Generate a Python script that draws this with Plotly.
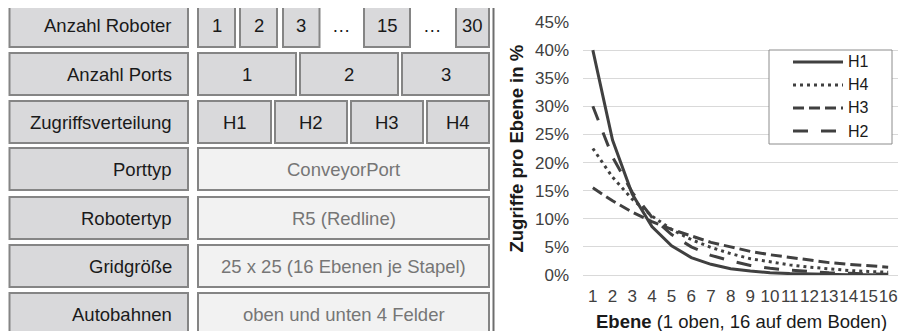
import plotly.graph_objects as go

# ---------------- data ----------------
ebenen = ["1", "2", "3", "4", "5", "6", "7", "8", "9", "10", "11", "12", "13", "14", "15", "16"]
h1 = [40.0, 24.0, 14.4, 8.6, 5.2, 3.1, 1.9, 1.1, 0.7, 0.4, 0.25, 0.15, 0.09, 0.05, 0.03, 0.02]
h4 = [22.5, 17.4, 13.5, 10.5, 8.1, 6.3, 4.9, 3.8, 2.9, 2.3, 1.8, 1.4, 1.05, 0.8, 0.63, 0.49]
h3 = [15.5, 13.2, 11.2, 9.5, 8.1, 6.9, 5.8, 5.0, 4.2, 3.6, 3.1, 2.6, 2.2, 1.9, 1.6, 1.4]
h2 = [30.0, 21.0, 14.7, 10.3, 7.2, 5.0, 3.5, 2.5, 1.7, 1.2, 0.85, 0.6, 0.4, 0.3, 0.2, 0.14]
series_names = ["H1", "H4", "H3", "H2"]

row_labels = ["Anzahl Roboter", "Anzahl Ports", "Zugriffsverteilung", "Porttyp",
              "Robotertyp", "Gridgröße", "Autobahnen"]
robot_values = ["1", "2", "3", "…", "15", "…", "30"]
port_values = ["1", "2", "3"]
verteilung_values = ["H1", "H2", "H3", "H4"]
single_values = ["ConveyorPort", "R5 (Redline)", "25 x 25 (16 Ebenen je Stapel)", "oben und unten 4 Felder"]

W, H = 906, 331
OFF = 8  # page body margin offset
FONT = "Liberation Sans, Arial, sans-serif"
LINE = "#404040"


def px(x):
    return (x - OFF) / W


def py(y):
    return 1 - (y - OFF) / H


fig = go.Figure()

styles = {
    "H1": "solid",
    "H4": "3px,4px",
    "H3": "11px,5px",
    "H2": "15px,13px",
}
data = {"H1": h1, "H4": h4, "H3": h3, "H2": h2}
for name in ["H3", "H4", "H2", "H1"]:
    fig.add_trace(go.Scatter(
        x=ebenen, y=data[name], mode="lines", name=name,
        line=dict(color=LINE, width=3, dash=styles[name]),
        showlegend=False, hoverinfo="skip"))

shapes = []
annotations = []

# ---------- table on the left ----------
row_tops = [5, 53, 101, 148, 197, 245, 293]
row_h = 42
LBL_FILL = "#d9d9db"
VAL_FILL_LIGHT = "#f2f2f2"
BORDER = "#858585"
TXT = "#1a1a1a"
GRAY_TXT = "#767676"
FS = 18.5


def box(x0, x1, top, fill):
    shapes.append(dict(type="rect", xref="paper", yref="paper",
                       x0=px(x0), x1=px(x1), y0=py(top + row_h), y1=py(top),
                       fillcolor=fill, line=dict(color=BORDER, width=2), layer="below"))


def text(x, y, s, color=TXT, anchor="center", size=FS):
    annotations.append(dict(xref="paper", yref="paper", x=px(x), y=py(y), text=s,
                            showarrow=False, xanchor=anchor, yanchor="middle",
                            font=dict(family=FONT, size=size, color=color)))


for i, lab in enumerate(row_labels):
    top = row_tops[i]
    box(9.5, 188, top, LBL_FILL)
    text(174, top + row_h / 2, lab, anchor="right")

# row 1: robots
r1_boxes = [(198, 235), (240, 277), (283, 319.5), None, (364, 410), None, (456, 489)]
ell_x = [341, 432]
k = 0
for val, b in zip(robot_values, r1_boxes):
    cy = row_tops[0] + row_h / 2
    if b is None:
        text(ell_x[k], cy, val)
        k += 1
    else:
        box(b[0], b[1], row_tops[0], LBL_FILL)
        text((b[0] + b[1]) / 2, cy, val)

# row 2: ports
r2_boxes = [(198, 296), (300, 398), (402, 489)]
for val, b in zip(port_values, r2_boxes):
    box(b[0], b[1], row_tops[1], LBL_FILL)
    text((b[0] + b[1]) / 2, row_tops[1] + row_h / 2, val)

# row 3: distribution
r3_boxes = [(198, 271), (275, 347), (351, 423), (427, 489)]
for val, b in zip(verteilung_values, r3_boxes):
    box(b[0], b[1], row_tops[2], LBL_FILL)
    text((b[0] + b[1]) / 2, row_tops[2] + row_h / 2, val)

# rows 4-7: single values
for j, val in enumerate(single_values):
    top = row_tops[3 + j]
    box(198, 489, top, VAL_FILL_LIGHT)
    text((198 + 489) / 2, top + row_h / 2, val, color=GRAY_TXT)

# ---------- chart frame ----------
shapes.append(dict(type="rect", xref="paper", yref="paper",
                   x0=px(493.5), x1=px(930), y0=py(350), y1=py(5),
                   line=dict(color="#6e6e6e", width=2), fillcolor="rgba(0,0,0,0)", layer="below"))

# ---------- legend (manual) ----------
shapes.append(dict(type="rect", xref="paper", yref="paper",
                   x0=px(769), x1=px(892), y0=py(144), y1=py(50),
                   line=dict(color="#8c8c8c", width=1), fillcolor="white", layer="above"))
leg_y = [62, 85, 108, 131]
for name, yy in zip(series_names, leg_y):
    shapes.append(dict(type="line", xref="paper", yref="paper",
                       x0=px(793), x1=px(843), y0=py(yy), y1=py(yy),
                       line=dict(color=LINE, width=3, dash=styles[name]), layer="above"))
    text(846, yy, name, anchor="left", size=16)

# ---------- axis titles ----------
annotations.append(dict(xref="paper", yref="paper", x=px(516), y=py(148.5),
                        text="<b>Zugriffe pro Ebene in %</b>", textangle=-90, showarrow=False,
                        xanchor="center", yanchor="middle",
                        font=dict(family=FONT, size=18.5, color="#1a1a1a")))
annotations.append(dict(xref="paper", yref="paper", x=px(741), y=py(321),
                        text="<b>Ebene</b> (1 oben, 16 auf dem Boden)", showarrow=False,
                        xanchor="center", yanchor="middle",
                        font=dict(family=FONT, size=18.5, color="#1a1a1a")))

fig.update_layout(
    width=W, height=H,
    margin=dict(l=0, r=0, t=0, b=0, autoexpand=False),
    paper_bgcolor="white", plot_bgcolor="white",
    shapes=shapes, annotations=annotations,
    showlegend=False,
    xaxis=dict(domain=[px(583), px(898)], type="category", range=[-0.5, 15.5],
               tickmode="array", tickvals=ebenen, ticktext=ebenen, tickangle=0,
               showgrid=False, zeroline=False, showline=False, automargin=False,
               ticks="", ticklabelstandoff=9,
               tickfont=dict(family=FONT, size=17, color="#404040")),
    yaxis=dict(domain=[py(275), py(22)], range=[0, 45], dtick=5, ticksuffix="%",
               showgrid=True, gridcolor="#d9d9d9", gridwidth=1,
               zeroline=True, zerolinecolor="#d9d9d9", zerolinewidth=1,
               showline=False, ticks="", ticklabelstandoff=13, automargin=False,
               tickfont=dict(family=FONT, size=17, color="#404040")),
)

fig.write_html("out.html")
